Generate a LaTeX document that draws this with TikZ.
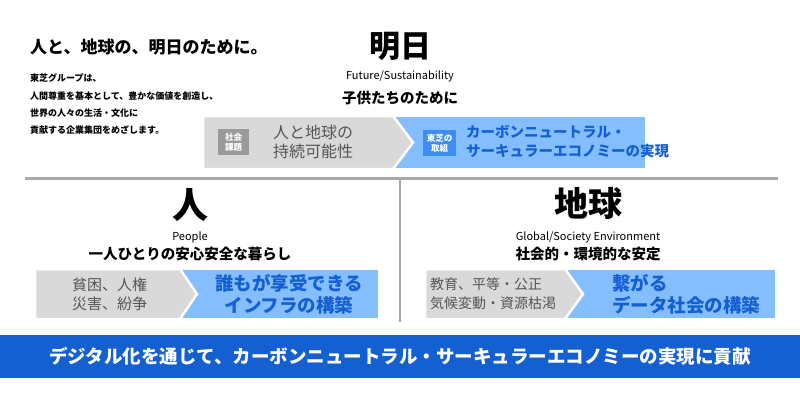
\documentclass[tikz,border=0pt]{standalone}
\usepackage{fontspec}
\setmainfont{Noto Sans CJK JP}
\definecolor{lgrey}{HTML}{D9D9D9}
\definecolor{lblue}{HTML}{85BEFF}
\definecolor{dblue}{HTML}{1560D0}
\definecolor{bgrey}{HTML}{9A9A9A}
\definecolor{bblue}{HTML}{3C8EF2}
\definecolor{tgrey}{HTML}{555555}
\definecolor{lineg}{HTML}{A8A8A8}
\begin{document}
\begin{tikzpicture}[x=1pt,y=-1pt,
  fs/.style={font=\fontsize{#1}{#1}\selectfont},
  fb/.style={font=\fontsize{#1}{#1}\selectfont\bfseries},
  lbl/.style={inner sep=0,align=left,anchor=west},
  ctr/.style={inner sep=0,align=center},
  badge/.style={inner sep=0,align=center,text=white,minimum width=31,minimum height=26,font=\fontsize{8.5}{10}\selectfont\bfseries}]
\useasboundingbox (0,0) rectangle (800,400);
% header
\node[lbl,fb=17] (title) at (30,47) {人と、地球の、明日のために。};
\node[lbl,fb=9] (l1) at (30,78) {東芝グループは、};
\node[lbl,fb=9] (l2) at (30,96) {人間尊重を基本として、豊かな価値を創造し、};
\node[lbl,fb=9] (l3) at (30,113) {世界の人々の生活・文化に};
\node[lbl,fb=9] (l4) at (30,130) {貢献する企業集団をめざします。};
\node[ctr,fb=31] (asu) at (400,46) {明日};
\node[ctr,fs=11] (fut) at (400,76) {Future/Sustainability};
\node[ctr,fb=14.5] (kodomo) at (400,98) {子供たちのために};
% top band
\fill[lblue] (393,117) -- (645,117) -- (645,168) -- (393,168) -- cycle;
\filldraw[fill=lgrey,draw=white,line width=2.5] (203,116) -- (393,116) -- (413,142.5) -- (393,169) -- (203,169) -- cycle;
\node[badge,fill=bgrey] (b1) at (233.5,142) {社会\\課題};
\node[lbl,text=tgrey,font=\fontsize{16}{19}\selectfont] (t1) at (273,142) {人と地球の\\持続可能性};
\node[badge,fill=bblue,minimum width=33] (b2) at (439.5,143) {東芝の\\取組};
\node[lbl,text=dblue,font=\fontsize{14.5}{19}\selectfont\bfseries] (t2) at (466,142) {カーボンニュートラル・\\サーキュラーエコノミーの実現};
% dividers
\draw[lineg,line width=3] (25,178) -- (778,178);
\draw[lineg,line width=1.5] (400,178) -- (400,322);
% left
\node[ctr,fb=36] (hito) at (190,205) {人};
\node[ctr,fs=11] (people) at (190,237) {People};
\node[ctr,fb=14.5] (anshin) at (190,254) {一人ひとりの安心安全な暮らし};
\fill[lblue] (180,270) -- (378,270) -- (378,318) -- (180,318) -- cycle;
\filldraw[fill=lgrey,draw=white,line width=2.5] (35,269) -- (180,269) -- (197,294) -- (180,319) -- (35,319) -- cycle;
\node[lbl,text=tgrey,font=\fontsize{15}{19}\selectfont] (p1) at (72,294) {貧困、人権\\災害、紛争};
\node[ctr,text=dblue,font=\fontsize{18.5}{22}\selectfont\bfseries] (p2) at (289,294) {誰もが享受できる\\インフラの構築};
% right
\node[ctr,fb=34] (chikyu) at (588,204) {地球};
\node[ctr,fs=11] (glob) at (588,237) {Global/Society Environment};
\node[ctr,fb=14.5] (antei) at (588,254) {社会的・環境的な安定};
\fill[lblue] (565,270) -- (775,270) -- (775,318) -- (565,318) -- cycle;
\filldraw[fill=lgrey,draw=white,line width=2.5] (425,269) -- (565,269) -- (583,294) -- (565,319) -- (425,319) -- cycle;
\node[lbl,text=tgrey,font=\fontsize{14}{19}\selectfont] (e1) at (430,294) {教育、平等・公正\\気候変動・資源枯渇};
\node[lbl,text=dblue,font=\fontsize{18.5}{22}\selectfont\bfseries] (e2) at (612,294) {繋がる\\データ社会の構築};
% bottom bar
\fill[dblue] (0,335) rectangle (800,378);
\node[ctr,text=white,fb=18.5] (bar) at (400,356.5) {デジタル化を通じて、カーボンニュートラル・サーキュラーエコノミーの実現に貢献};
\end{tikzpicture}
\end{document}
